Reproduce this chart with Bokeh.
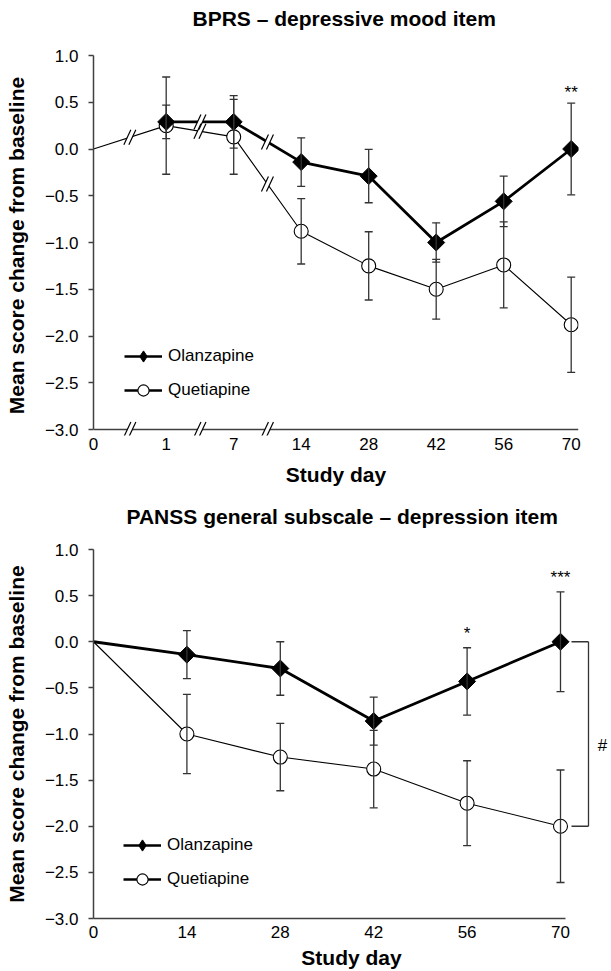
import math
import numpy as np
from bokeh.plotting import figure
from bokeh.layouts import column
from bokeh.models import (FixedTicker, CustomJSTickFormatter, Legend, LegendItem, Range1d,
                          Title)
from bokeh.core.properties import value
from bokeh.embed import file_html
from bokeh.resources import INLINE

FONT = "Liberation Sans"
NAN = float("nan")

# ---------------- data ----------------
bprs_title = "BPRS – depressive mood item"
bprs_day_labels = ["0", "1", "7", "14", "28", "42", "56", "70"]
bprs_olz_mean = [NAN, 0.29, 0.29, -0.14, -0.29, -1.00, -0.56, 0.00]
bprs_olz_err = [NAN, 0.18, 0.28, 0.26, 0.285, 0.21, 0.27, 0.49]
bprs_que_mean = [0.00, 0.25, 0.13, -0.88, -1.25, -1.50, -1.24, -1.88]
bprs_que_err = [NAN, 0.52, 0.40, 0.35, 0.365, 0.32, 0.46, 0.51]
bprs_sig_index = [7]
bprs_sig_y = [0.65]
bprs_sig_text = ["**"]
bprs_break_between = [0, 1, 2]   # axis breaks after these category indices

panss_title = "PANSS general subscale – depression item"
panss_days = [0, 14, 28, 42, 56, 70]
panss_olz_mean = [0.00, -0.14, -0.29, -0.86, -0.43, 0.00]
panss_olz_err = [NAN, 0.26, 0.29, 0.26, 0.365, 0.54]
panss_que_mean = [0.00, -1.00, -1.25, -1.38, -1.75, -2.00]
panss_que_err = [NAN, 0.43, 0.365, 0.42, 0.46, 0.61]
panss_sig_day = [56, 70]
panss_sig_y = [0.13, 0.74]
panss_sig_text = ["*", "***"]
panss_hash_text = "#"
panss_hash_y = -1.1

y_ticks = [1.0, 0.5, 0.0, -0.5, -1.0, -1.5, -2.0, -2.5, -3.0]
y_min, y_max = -3.0, 1.0
y_label = "Mean score change from baseline"
x_label = "Study day"
series_names = ["Olanzapine", "Quetiapine"]

# ---------------- layout constants ----------------
LEFT = 93
AXIS_COL = "#404040"
ERR_COL = "#333333"

T_FW = 485
T_FH_DATA = 374
T_EXTRA = 6
T_FH = T_FH_DATA + T_EXTRA
T_PPX = 67.5                 # px per category step
FIRST_GAP_EXTRA = 0.077      # first category gap is slightly wider
T_XEND = T_FW / T_PPX
T_PPY = T_FH_DATA / (y_max - y_min)
T_YSTART = y_min - T_EXTRA / T_PPY

B_PPX = 467.0 / 70.0
B_FW = 516
B_FH = 369
B_XEND = B_FW / B_PPX
B_PPY = B_FH / (y_max - y_min)

tick_fmt_code = "return (tick < 0 ? '\u2212' : '') + Math.abs(tick).toFixed(1);"


def add_titles(p, text, spacer_standoff, left_offset):
    p.add_layout(Title(text=" ", text_font=FONT, text_font_size="21px",
                       text_font_style="bold", standoff=spacer_standoff), "above")
    p.add_layout(Title(text=text, text_font=FONT, text_font_size="21px",
                       text_font_style="bold", align="left", offset=left_offset,
                       standoff=0, text_color="black"), "above")


def style_common(p):
    p.outline_line_color = None
    p.grid.grid_line_color = None
    p.background_fill_color = "white"
    p.border_fill_color = "white"
    ya = p.yaxis[0]
    ya.ticker = FixedTicker(ticks=y_ticks)
    ya.formatter = CustomJSTickFormatter(code=tick_fmt_code)
    ya.bounds = (y_min, y_max)
    ya.axis_line_color = AXIS_COL
    ya.axis_line_width = 1.5
    ya.major_tick_line_color = AXIS_COL
    ya.major_tick_line_width = 1.5
    ya.major_tick_out = 5
    ya.major_tick_in = 0
    ya.minor_tick_line_color = None
    ya.major_label_standoff = 10
    ya.major_label_text_font = FONT
    ya.major_label_text_font_size = "17px"
    ya.major_label_text_color = "black"
    ya.axis_label = y_label
    ya.axis_label_standoff = 14
    ya.axis_label_text_font = FONT
    ya.axis_label_text_font_size = "21px"
    ya.axis_label_text_font_style = "bold"
    ya.axis_label_text_color = "black"
    xa = p.xaxis[0]
    xa.major_tick_line_color = None
    xa.minor_tick_line_color = None
    xa.major_label_text_font = FONT
    xa.major_label_text_font_size = "17px"
    xa.major_label_text_color = "black"
    xa.axis_label = x_label
    xa.axis_label_text_font = FONT
    xa.axis_label_text_font_size = "21px"
    xa.axis_label_text_font_style = "bold"
    xa.axis_label_text_color = "black"


def draw_series(p, x, olz, olz_err, que, que_err, olz_line_from, que_line_from):
    x = np.asarray(x, dtype=float)
    olz = np.asarray(olz, dtype=float)
    que = np.asarray(que, dtype=float)
    oe = np.asarray(olz_err, dtype=float)
    qe = np.asarray(que_err, dtype=float)
    p.line(x[que_line_from:], que[que_line_from:], line_color="black", line_width=1.1)
    p.line(x[olz_line_from:], olz[olz_line_from:], line_color="black", line_width=2.8)
    mq = ~np.isnan(qe)
    mo = ~np.isnan(oe)
    p.scatter(x[mq], que[mq], marker="circle", size=14, fill_color="white",
              line_color="black", line_width=1.1)
    p.scatter(x[mo], olz[mo], marker="square", size=12, angle=math.pi / 4,
              fill_color="black", line_color="black")
    for m, mean, err in ((mq, que, qe), (mo, olz, oe)):
        xs = x[m]
        lo = mean[m] - err[m]
        hi = mean[m] + err[m]
        p.segment(xs, lo, xs, hi, line_color=ERR_COL, line_width=1.3)
        p.scatter(np.concatenate([xs, xs]), np.concatenate([lo, hi]), marker="dash",
                  size=8, line_color=ERR_COL, line_width=1.3)


def add_legend(p, loc):
    off = [-100.0, -99.0]
    lo1 = p.line(off, [0, 0], line_color="black", line_width=2.5)
    lo2 = p.scatter(off[:1], [0], marker="diamond", fill_color="black", line_color="black")
    lq1 = p.line(off, [0, 0], line_color="black", line_width=2.5)
    lq2 = p.scatter(off[:1], [0], marker="circle", fill_color="white", line_color="black",
                    line_width=1.1)
    leg = Legend(items=[LegendItem(label=series_names[0], renderers=[lo1, lo2]),
                        LegendItem(label=series_names[1], renderers=[lq1, lq2])],
                 location=loc, glyph_width=38, glyph_height=28, label_height=28,
                 label_standoff=6, spacing=6, padding=0, margin=0,
                 border_line_color=None, background_fill_alpha=0,
                 label_text_font=FONT, label_text_font_size="17px",
                 label_text_color="black")
    p.add_layout(leg)


def break_marks(p, centers, ppx, ppy):
    hw, hh, sep = 3.5, 7.5, 5.0
    xs_p, ys_p, x0s, y0s, x1s, y1s = [], [], [], [], [], []
    for cx, cy in centers:
        xs_p.append([cx + (-sep / 2 - hw) / ppx, cx + (sep / 2 - hw) / ppx,
                     cx + (sep / 2 + hw) / ppx, cx + (-sep / 2 + hw) / ppx])
        ys_p.append([cy - hh / ppy, cy - hh / ppy, cy + hh / ppy, cy + hh / ppy])
        for s in (-sep / 2, sep / 2):
            x0s.append(cx + (s - hw) / ppx)
            y0s.append(cy - hh / ppy)
            x1s.append(cx + (s + hw) / ppx)
            y1s.append(cy + hh / ppy)
    p.patches(xs_p, ys_p, fill_color="white", line_color=None)
    p.segment(x0s, y0s, x1s, y1s, line_color="black", line_width=1.2)


def sig_text(p, xs, ys, texts, yoff):
    p.text(xs, ys, text=texts, text_font=value(FONT), text_font_size=value("17px"),
           text_align="center", text_baseline="alphabetic", y_offset=yoff,
           text_color="black")


# ---------------- top chart ----------------
n_cat = len(bprs_day_labels)
pos = [0.0] + [i + FIRST_GAP_EXTRA for i in range(1, n_cat)]
p1 = figure(x_range=Range1d(0, T_XEND), y_range=Range1d(T_YSTART, y_max),
            frame_width=T_FW, frame_height=T_FH, min_border_left=LEFT, min_border_right=24,
            min_border_top=55, min_border_bottom=47, output_backend="svg",
            toolbar_location=None)
add_titles(p1, bprs_title, 1, 99)
style_common(p1)
xa = p1.xaxis[0]
xa.ticker = FixedTicker(ticks=pos)
xa.formatter = CustomJSTickFormatter(args=dict(labels=bprs_day_labels),
                                     code="return labels[index];")
xa.axis_line_color = None
xa.major_label_standoff = -4
xa.axis_label_standoff = 10
p1.segment([0], [y_min], [T_XEND], [y_min], line_color=AXIS_COL, line_width=1.5)

draw_series(p1, pos, bprs_olz_mean, bprs_olz_err, bprs_que_mean, bprs_que_err,
            olz_line_from=1, que_line_from=0)

centers = []
for b in bprs_break_between:
    xm = (pos[b] + pos[b + 1]) / 2
    centers.append((xm, y_min))
    centers.append((xm, (bprs_que_mean[b] + bprs_que_mean[b + 1]) / 2))
    if not (math.isnan(bprs_olz_mean[b]) or math.isnan(bprs_olz_mean[b + 1])):
        centers.append((xm, (bprs_olz_mean[b] + bprs_olz_mean[b + 1]) / 2))
break_marks(p1, centers, T_PPX, T_PPY)
sig_text(p1, [pos[i] for i in bprs_sig_index], bprs_sig_y, bprs_sig_text, 4)
add_legend(p1, (31, 31))

# ---------------- bottom chart ----------------
p2 = figure(x_range=Range1d(0, B_XEND), y_range=Range1d(y_min, y_max),
            frame_width=B_FW, frame_height=B_FH, min_border_left=LEFT, min_border_right=0,
            min_border_top=61, min_border_bottom=40, output_backend="svg",
            toolbar_location=None)
add_titles(p2, panss_title, -3, 33)
style_common(p2)
xb = p2.xaxis[0]
xb.ticker = FixedTicker(ticks=panss_days)
xb.bounds = (0, panss_days[-1] + 5 / B_PPX)
xb.axis_line_color = AXIS_COL
xb.axis_line_width = 1.5
xb.major_label_standoff = 1
xb.axis_label_standoff = 5

draw_series(p2, panss_days, panss_olz_mean, panss_olz_err, panss_que_mean, panss_que_err,
            olz_line_from=0, que_line_from=0)
sig_text(p2, panss_sig_day, panss_sig_y, panss_sig_text, 4)

xl = panss_days[-1]
xs0 = xl + 11 / B_PPX
xbr = xl + 28 / B_PPX
ytop = panss_olz_mean[-1]
ybot = panss_que_mean[-1]
p2.segment([xs0, xbr, xbr], [ytop, ytop, ybot], [xbr, xbr, xs0], [ytop, ybot, ybot],
           line_color=ERR_COL, line_width=1.3)
p2.text([xl + 42 / B_PPX], [panss_hash_y], text=[panss_hash_text], text_font=value(FONT),
        text_font_size=value("17px"), text_align="center", text_baseline="alphabetic",
        y_offset=2, text_color="black")
add_legend(p2, (30, 25))

layout = column(p1, p2, spacing=0)
open("out.html", "w", encoding="utf-8").write(file_html(layout, INLINE))
